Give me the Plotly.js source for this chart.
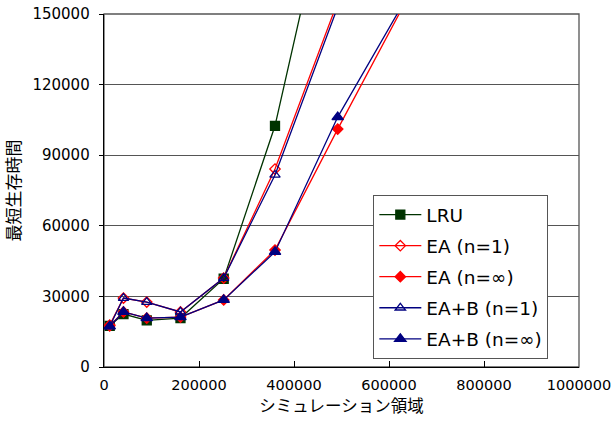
<!DOCTYPE html>
<html><head><meta charset="utf-8">
<script src="https://cdn.plot.ly/plotly-3.0.1.min.js"></script>
<style>body{margin:0;background:#fff}#c{width:612px;height:430px}</style>
</head><body><div id="c"></div>
<script>
const xVals = [12000, 41000, 90000, 161000, 252000, 360000, 492000];
const lru = [17500, 22500, 19800, 20800, 37500, 102500, 220000];
const ea1 = [17800, 29300, 27600, 23400, 37800, 84100, 155200];
const eaInf = [17500, 23400, 20800, 21200, 28500, 49700, 101100];
const eab1 = [17300, 29300, 27600, 23400, 37800, 81600, 153000];
const eabInf = [17300, 23400, 20800, 21200, 28500, 48900, 106200];
const xVals8 = [12000, 41000, 90000, 161000, 252000, 360000, 492000, 640000];
const eaInfExt = eaInf.concat([157100]);
const eabInfExt = eabInf.concat([158000]);
const names = ['LRU', 'EA (n=1)', 'EA (n=∞)', 'EA+B (n=1)', 'EA+B (n=∞)'];
const xTicks = [0, 200000, 400000, 600000, 800000, 1000000];
const yTicks = [0, 30000, 60000, 90000, 120000, 150000];

const F = '"Noto Sans CJK JP", "Noto Sans", sans-serif';
const D = '"DejaVu Sans", sans-serif';
function tr(x, y, name, color, symbol, size, g) {
  return {x: x, y: y, name: name, type: 'scatter', mode: 'lines+markers',
    line: {color: color, width: 1.3}, legendgroup: g,
    marker: {symbol: symbol, size: size, color: color, line: {color: color, width: 1.3}}};
}
const data = [
  tr(xVals, lru, names[0], '#003300', 'square', 9, 'a'),
  tr(xVals, ea1, names[1], '#ff0000', 'diamond-open', 8, 'b'),
  tr(xVals8, eaInfExt, names[2], '#ff0000', 'diamond', 8, 'c'),
  tr(xVals, eab1, names[3], '#000080', 'triangle-up-open', 9, 'd'),
  tr(xVals8, eabInfExt, names[4], '#000080', 'triangle-up', 10, 'e')
];
const layout = {
  width: 612, height: 430,
  margin: {l: 103.5, r: 33, t: 14, b: 63},
  paper_bgcolor: '#fff', plot_bgcolor: '#fff',
  font: {family: D, size: 15, color: '#000'},
  showlegend: true,
  legend: {x: 0.567, y: 0.487, xanchor: 'left', yanchor: 'top',
    bgcolor: '#fff', bordercolor: '#555', borderwidth: 1,
    font: {family: D, size: 18.5, color: '#000'},
    traceorder: 'grouped', tracegroupgap: 4, itemwidth: 42},
  xaxis: {range: [0, 1000000], tickvals: xTicks, ticktext: xTicks.map(String),
    showgrid: false, zeroline: false, showline: true, linecolor: '#000', linewidth: 1.3,
    ticks: 'inside', ticklen: 6, tickcolor: '#000',
    tickfont: {family: D, size: 14.5}, ticklabelstandoff: 4, ticklabeloverflow: 'allow',
    title: {text: 'シミュレーション領域', font: {family: F, size: 16.5}, standoff: 5}},
  yaxis: {range: [0, 150000], tickvals: yTicks, ticktext: yTicks.map(String),
    showgrid: true, gridcolor: '#555', gridwidth: 1, zeroline: false,
    showline: true, linecolor: '#000', linewidth: 1.3,
    ticks: 'outside', ticklen: 4, tickcolor: '#000',
    tickfont: {family: D, size: 15}, ticklabelstandoff: 6, ticklabeloverflow: 'allow',
    title: {text: '最短生存時間', font: {family: F, size: 17}, standoff: 8}},
  shapes: [{type: 'rect', xref: 'paper', yref: 'paper', x0: 0, x1: 1, y0: 0, y1: 1,
    line: {color: '#555', width: 1.3}, layer: 'below'}]
};
Plotly.newPlot('c', data, layout, {displayModeBar: false, staticPlot: true});
</script></body></html>
